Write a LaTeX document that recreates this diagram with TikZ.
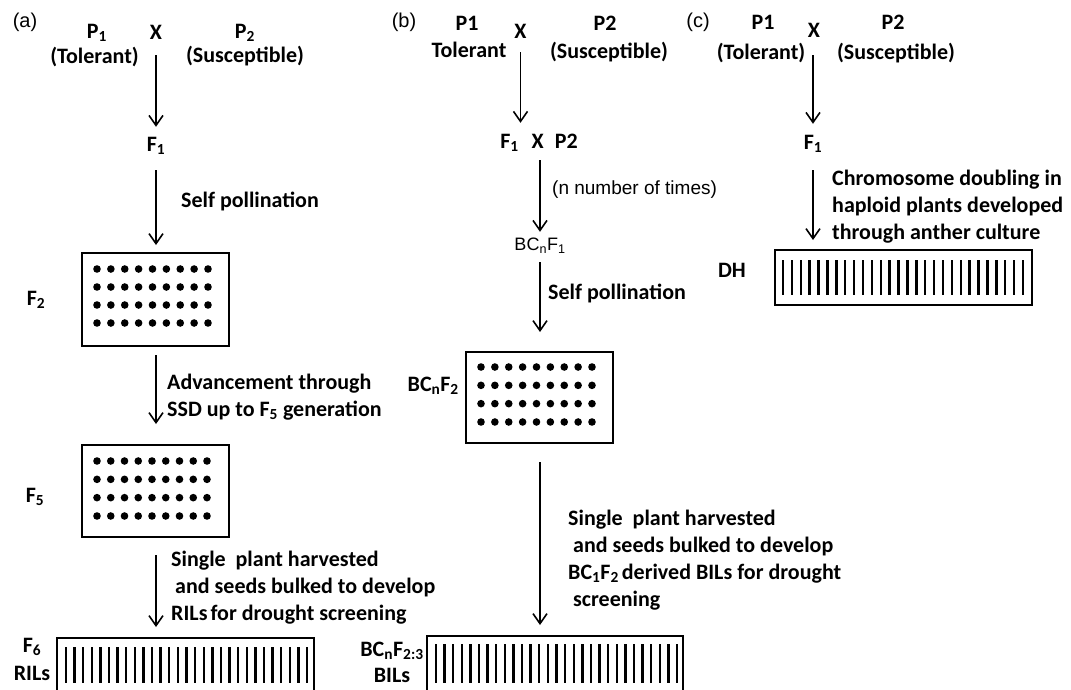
\documentclass[tikz,border=0pt]{standalone}
\usepackage{fontspec}
\setmainfont{Carlito}
\newfontfamily\arialf{Liberation Sans}
\usetikzlibrary{arrows.meta}
\newcommand{\lo}[1]{\textsubscript{#1}}
\begin{document}
\begin{tikzpicture}[x=1pt,y=-1pt,
  lab/.style={inner sep=0pt, text height=14pt, text depth=0pt, font=\bfseries\fontsize{22}{27}\selectfont},
  multi/.style={inner sep=0pt, align=left, font=\bfseries\fontsize{22}{27}\selectfont},
  tag/.style={inner sep=0pt, font=\arialf\fontsize{20}{24}\selectfont},
  arl/.style={inner sep=0pt, text height=13pt, text depth=0pt, font=\arialf\fontsize{18}{22}\selectfont},
  box/.style={draw, line width=2pt, inner sep=0pt, outer sep=0pt},
  arr/.style={line width=1.6pt, -{Straight Barb[length=10pt,width=14pt]}},
  bar/.style={line width=2.4pt},
  dot/.style={fill=black}]
\useasboundingbox (0,0) rectangle (1071,689);
\clip (0,0) rectangle (1071,689);

% ---------------- (a)
\node[tag] (ta) at (25,22) {(a)};
\node[lab] (P1a) at (97,31) {P\lo{1}};
\node[lab] (Tola) at (94.5,56) {(Tolerant)};
\node[lab] (Xa) at (156,32.5) {X};
\node[lab] (P2a) at (245,31) {P\lo{2}};
\node[lab] (Susa) at (245,55.5) {(Susceptible)};
\node[lab] (F1a) at (156,144) {F\lo{1}};
\node[lab,anchor=west] (SPa) at (181,200) {Self pollination};
\node[lab] (F2a) at (36,298) {F\lo{2}};
\node[box,minimum width=147,minimum height=93] (F2box) at (155.5,299.5) {};
\node[multi,anchor=west] (ADVa) at (167,397) {Advancement through\\SSD up to F\lo{5} generation};
\node[lab] (F5a) at (35,495) {F\lo{5}};
\node[box,minimum width=147,minimum height=92] (F5box) at (155.5,491) {};
\node[multi,anchor=west] (SGa) at (171,588) {Single\ \ plant harvested\\\hspace*{4pt}and seeds bulked to develop\\RILs\hspace{3pt}for drought screening};
\node[lab] (F6a) at (32,645) {F\lo{6}};
\node[lab] (RILa) at (32,673) {RILs};
\node[box,minimum width=257,minimum height=54] (RILbox) at (185.5,665) {};

\foreach \i in {0,...,8} \foreach \j in {0,...,3} {
  \fill[dot] (97+\i*13.875, 269+\j*18) circle (3.8);
  \fill[dot] (97+\i*13.75, 461+\j*18.33) circle (3.8);
  \fill[dot] (481+\i*13.875, 367+\j*18.33) circle (3.8);
}
\foreach \k in {0,...,28} {
  \draw[bar] (66+\k*8.607,647) -- (66+\k*8.607,683);
  \draw[bar] (436+\k*8.607,644) -- (436+\k*8.607,683);
}
\foreach \k in {0,...,27} {
  \draw[bar] (783+\k*8.889,260) -- (783+\k*8.889,295);
}

\draw[arr, shorten <=15.5pt, shorten >=10pt] (F1a |- Xa.south) -- (F1a.north);
\draw[arr, shorten <=19pt, shorten >=8pt] (F1a.south) -- (F1a |- F2box.north);
\draw[arr, shorten <=9pt, shorten >=21pt] (F1a |- F2box.south) -- (F1a |- F5box.north);
\draw[arr, shorten <=18pt, shorten >=11pt] (F1a |- F5box.south) -- (F1a |- RILbox.north);

% ---------------- (b)
\node[tag] (tb) at (404,22) {(b)};
\node[lab] (P1b) at (467,23.5) {P1};
\node[lab] (Tolb) at (469,50) {Tolerant};
\node[lab] (Xb) at (520.5,31) {X};
\node[lab] (P2b) at (605,23.5) {P2};
\node[lab] (Susb) at (609,51) {(Susceptible)};
\node[lab] (F1P2) at (539,141) {F\lo{1}\hspace{13pt}X\hspace{11pt}P2};
\node[tag,anchor=west,font=\arialf\fontsize{19}{23}\selectfont] (nt) at (552,190) {(n number of times)};
\node[arl] (BC1) at (540,244) {BC\lo{n}F\lo{1}};
\node[lab,anchor=west] (SPb) at (548,292) {Self pollination};
\node[lab,anchor=east] (BC2) at (459,384) {BC\lo{n}F\lo{2}};
\node[box,minimum width=147,minimum height=91] (BCbox) at (539.5,397.5) {};
\node[multi,anchor=west] (SGb) at (568,560) {Single\ \ plant harvested\\\hspace*{5pt}and seeds bulked to develop\\BC\lo{1}F\lo{2}\hspace{3pt}derived BILs for drought\\\hspace*{5pt}screening};
\node[lab] (BC23) at (392,649) {BC\lo{n}F\lo{2:3}};
\node[lab] (BILb) at (392,675) {BILs};
\node[box,minimum width=256,minimum height=56] (BILbox) at (555,664) {};

\draw[arr, shorten <=14pt, shorten >=11pt] (Xb.south) -- (Xb |- F1P2.north);
\draw[arr, shorten <=12pt, shorten >=5.5pt] (BC1 |- F1P2.south) -- (BC1.north);
\draw[arr, shorten <=11.5pt, shorten >=20pt] (BC1.south) -- (BC1 |- BCbox.north);
\draw[arr, shorten <=19pt, shorten >=11pt] (BC1 |- BCbox.south) -- (BC1 |- BILbox.north);

% ---------------- (c)
\node[tag] (tc) at (698,22) {(c)};
\node[lab] (P1c) at (763,22) {P1};
\node[lab] (Tolc) at (761,52) {(Tolerant)};
\node[lab] (Xc) at (814,30.5) {X};
\node[lab] (P2c) at (893,22) {P2};
\node[lab] (Susc) at (896,52) {(Susceptible)};
\node[lab] (F1c) at (813,142.5) {F\lo{1}};
\node[multi,anchor=west] (CDc) at (832,207) {Chromosome doubling in\\haploid plants developed\\through anther culture};
\node[lab] (DH) at (732,270) {DH};
\node[box,minimum width=257,minimum height=55] (DHbox) at (903.5,277.5) {};

\draw[arr, shorten <=17.5pt, shorten >=11.5pt] (F1c |- Xc.south) -- (F1c.north);
\draw[arr, shorten <=20.5pt, shorten >=10pt] (F1c.south) -- (F1c |- DHbox.north);
\end{tikzpicture}
\end{document}
